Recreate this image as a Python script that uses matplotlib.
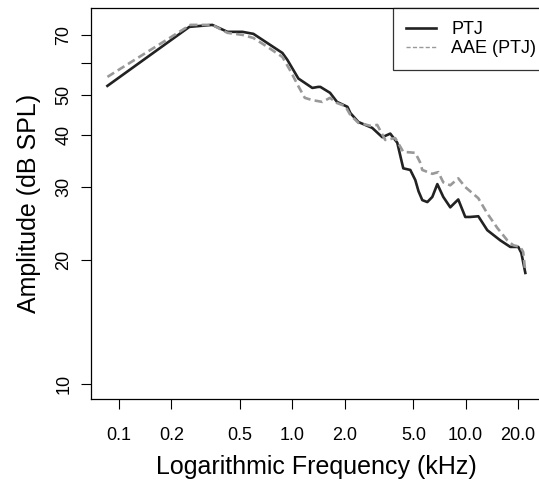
import numpy as np
import matplotlib.pyplot as plt

plt.rcParams['font.family'] = ['Liberation Sans', 'DejaVu Sans']

# PTJ spectrum (kHz, dB SPL)
ptj_freq = [0.0856, 0.2545, 0.345, 0.422, 0.515, 0.596, 0.717, 0.876, 0.936,
            1.083, 1.304, 1.41, 1.451, 1.65, 1.81, 2.08, 2.162, 2.404, 2.467,
            2.892, 3.304, 3.674, 4.033, 4.253, 4.368, 4.796, 5.124, 5.35,
            5.624, 6.013, 6.426, 6.868, 7.433, 8.157, 8.6, 9.070, 9.956,
            10.6, 11.84, 13.34, 15.86, 18.11, 20.14, 20.97, 22.12]
ptj_amp = [52.7, 73.2, 74.0, 71.2, 71.2, 70.4, 66.9, 63.3, 60.9,
           54.9, 52.1, 52.4, 52.4, 50.7, 48.2, 46.9, 45.3, 43.1, 42.9,
           41.7, 39.6, 40.4, 38.4, 34.9, 33.3, 33.0, 31.2, 29.3,
           27.9, 27.6, 28.4, 30.5, 28.4, 26.8, 27.4, 28.0, 25.4,
           25.4, 25.5, 23.6, 22.3, 21.5, 21.5, 20.8, 18.6]

# AAE (PTJ) spectrum
aae_freq = [0.0856, 0.258, 0.345, 0.422, 0.515, 0.596, 0.717, 0.876, 0.974,
            1.083, 1.18, 1.30, 1.49, 1.65, 1.81, 2.02, 2.162, 2.404, 2.817,
            3.091, 3.436, 3.925, 4.368, 5.124, 5.45, 5.624, 6.426, 6.955,
            7.433, 8.157, 9.07, 9.956, 11.84, 13.34, 15.24, 17.41, 18.85,
            20.7, 21.5, 22.12]
aae_amp = [55.4, 74.0, 74.0, 70.8, 70.0, 68.8, 65.5, 61.9, 57.3,
           52.6, 49.3, 48.7, 48.2, 49.3, 47.9, 47.1, 44.8, 42.9, 42.2,
           42.4, 39.0, 39.4, 36.5, 36.3, 34.5, 33.0, 32.3, 32.6,
           30.8, 30.3, 31.5, 30.0, 28.2, 25.9, 23.9, 22.3, 21.7,
           21.5, 20.9, 18.7]

x_ticks = [0.1, 0.2, 0.5, 1.0, 2.0, 5.0, 10.0, 20.0]
x_labels = ["0.1", "0.2", "0.5", "1.0", "2.0", "5.0", "10.0", "20.0"]
y_ticks = [10, 20, 30, 40, 50, 60, 70]
y_labels = ["10", "20", "30", "40", "50", "", "70"]

fig = plt.figure(figsize=(5.39, 4.84), dpi=100)
ax = fig.add_axes([90.7 / 539, 1 - 399 / 484, (542 - 90.7) / 539, 391 / 484])

ax.plot(ptj_freq, ptj_amp, color="#222222", lw=1.9, label="PTJ")
ax.plot(aae_freq, aae_amp, color="#999999", lw=1.9, ls=(0, (3, 1.6)), label="AAE (PTJ)")

ax.set_xscale("log")
ax.set_yscale("log")
ax.set_xlim(10 ** -1.164, 10 ** 1.441)
ax.set_ylim(9.22, 81.3)
ax.minorticks_off()
ax.set_xticks(x_ticks)
ax.set_xticklabels(x_labels)
ax.set_yticks(y_ticks)
ax.set_yticklabels(y_labels, rotation=90, va="center")
ax.tick_params(axis="both", length=7.2, width=0.8, labelsize=13)
ax.tick_params(axis="x", pad=13)
ax.tick_params(axis="y", pad=6)
for s in ax.spines.values():
    s.set_linewidth(0.9)

ax.set_xlabel("Logarithmic Frequency (kHz)", fontsize=18, labelpad=8)
ax.set_ylabel("Amplitude (dB SPL)", fontsize=18, labelpad=10)

# legend box runs past the right edge like in the original crop
leg = ax.legend(loc="upper right", bbox_to_anchor=(1 + 7 / 451, 1),
                fontsize=13, frameon=True, fancybox=False,
                edgecolor="black", borderaxespad=0, handlelength=1.66,
                handletextpad=0.83, labelspacing=0.12, borderpad=0.72)
leg.get_frame().set_linewidth(0.9)
leg.get_lines()[1].set_linewidth(1.0)

fig.savefig("out.png", dpi=100)
